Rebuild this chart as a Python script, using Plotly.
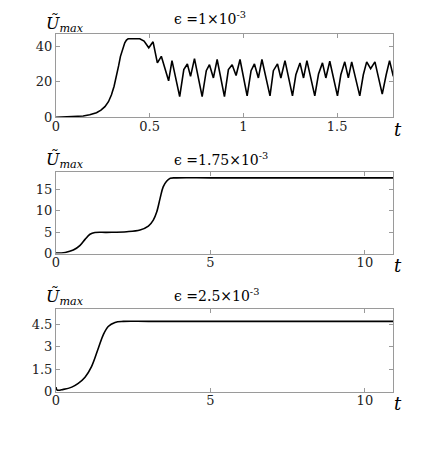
import plotly.graph_objects as go

# panel 1: eps = 1e-3
t1 = [0, 0.05, 0.1, 0.145, 0.18, 0.216, 0.24, 0.261, 0.28, 0.296, 0.31, 0.323, 0.334,
      0.344, 0.356, 0.367, 0.376, 0.385, 0.447, 0.47,
      0.495, 0.518, 0.541, 0.562, 0.601, 0.619, 0.66, 0.682, 0.701, 0.718, 0.739,
      0.78, 0.802, 0.819, 0.84, 0.86, 0.899, 0.92, 0.94, 0.961, 0.982,
      1.02, 1.041, 1.059, 1.08, 1.099, 1.142, 1.16, 1.182, 1.2, 1.222,
      1.262, 1.28, 1.302, 1.321, 1.339, 1.381, 1.401, 1.422, 1.44, 1.461,
      1.502, 1.52, 1.541, 1.56, 1.578, 1.621, 1.64, 1.658, 1.679, 1.702,
      1.741, 1.762, 1.78, 1.8]
u1 = [0, 0.1, 0.3, 0.7, 1.4, 2.6, 4, 6, 8.8, 12.7, 17.5, 23, 29,
      34.4, 39, 42, 43.6, 44.3, 44.3, 43,
      39.2, 42.6, 30.7, 34.4, 20.6, 32, 11.7, 26.9, 30.1, 23.1, 33.1,
      11.7, 26.3, 29.7, 22.2, 32.6, 11.7, 26.9, 29.7, 23.6, 32.6,
      12.1, 26.3, 30.1, 22.2, 32.6, 12.1, 26.3, 30.1, 22.2, 32,
      12.1, 24, 30.7, 22.2, 32, 12.1, 24.4, 30.7, 22.2, 31.6,
      12.1, 24, 31.3, 22.2, 31.3, 12.1, 24, 31.3, 27.4, 31.3,
      13.1, 24, 32, 23.1]

# panel 2: eps = 1.75e-3
t2 = [0, 0.3, 0.56, 0.78, 0.94, 1.1, 1.26, 1.64, 2.29, 2.72, 2.99, 3.15, 3.26,
      3.37, 3.47, 3.58, 3.7, 3.9, 5, 7, 9, 10.92]
u2 = [0.1, 0.25, 0.8, 1.9, 3.3, 4.5, 4.9, 4.95, 5.1, 5.5, 6.4, 7.8, 9.7,
      12.9, 15.6, 16.9, 17.6, 17.7, 17.7, 17.7, 17.7, 17.7]

# panel 3: eps = 2.5e-3
t3 = [0, 0.04, 0.24, 0.51, 0.72, 0.94, 1.15, 1.37, 1.53, 1.69, 1.91, 2.18, 3, 6, 10.92]
u3 = [0.3, 0.1, 0.15, 0.3, 0.55, 0.96, 1.67, 2.9, 3.8, 4.36, 4.63, 4.7, 4.7, 4.7, 4.7]

titles = ["ϵ =1×10<sup>-3</sup>", "ϵ =1.75×10<sup>-3</sup>", "ϵ =2.5×10<sup>-3</sup>"]
xticks = [[0, 0.5, 1, 1.5], [0, 5, 10], [0, 5, 10]]
xlabels = [["0", "0.5", "1", "1.5"], ["0", "5", "10"], ["0", "5", "10"]]
yticks = [[0, 20, 40], [0, 5, 10, 15], [0, 1.5, 3, 4.5]]
ylabels = [["0", "20", "40"], ["0", "5", "10", "15"], ["0", "1.5", "3", "4.5"]]
xranges = [[0, 1.8], [0, 10.92], [0, 10.92]]
yranges = [[0, 47], [0, 19], [0, 5.55]]

FONT = "DejaVu Serif"
OFF = 8                       # page body margin
FW, FH = 436 - OFF, 459 - OFF

def px(x):
    return (x - OFF) / FW

def py(y):
    return 1 - (y - OFF) / FH

# screen pixel boxes of the three axes (top, bottom)
boxes = [(34, 117.3), (172.3, 253.5), (308.7, 391.6)]
ulab_y = [24, 160, 297]
title_y = [18, 159, 295]

fig = go.Figure()
data = [(t1, u1), (t2, u2), (t3, u3)]
for i, (t, u) in enumerate(data):
    n = "" if i == 0 else str(i + 1)
    fig.add_trace(go.Scatter(x=t, y=u, mode="lines", xaxis="x" + n, yaxis="y" + n,
                             line=dict(color="black", width=1.6,
                                       shape="linear" if i == 0 else "spline"),
                             showlegend=False, hoverinfo="skip"))
    top, bot = boxes[i]
    ax = dict(showline=True, linecolor="#9a9a9a", linewidth=1, mirror="ticks",
              ticks="inside", ticklen=4, tickcolor="#9a9a9a", showgrid=False,
              zeroline=False, automargin=False,
              tickfont=dict(family=FONT, size=13, color="#222"))
    fig.update_layout({
        "xaxis" + n: dict(ax, domain=[px(56), px(393.3)], anchor="y" + n,
                          range=xranges[i], tickvals=xticks[i], ticktext=xlabels[i],
                          ticklabelstandoff=-3),
        "yaxis" + n: dict(ax, domain=[py(bot), py(top)], anchor="x" + n,
                          range=yranges[i], tickvals=yticks[i], ticktext=ylabels[i]),
    })
    # y label
    fig.add_annotation(x=px(44), y=py(ulab_y[i]), xref="paper", yref="paper",
                       xanchor="left", yanchor="middle", showarrow=False,
                       text="<i>Ũ</i><sub><i>max</i></sub>",
                       font=dict(family=FONT, size=16, color="black"))
    # title
    fig.add_annotation(x=px(172), y=py(title_y[i]), xref="paper", yref="paper",
                       xanchor="left", yanchor="middle", showarrow=False,
                       text=titles[i], font=dict(family=FONT, size=14, color="black"))
    # t label
    fig.add_annotation(x=px(398), y=py(bot + 12), xref="paper", yref="paper",
                       xanchor="center", yanchor="middle", showarrow=False,
                       text="<i>t</i>", font=dict(family=FONT, size=18, color="black"))

fig.update_layout(width=FW, height=FH, margin=dict(l=0, r=0, t=0, b=0),
                  paper_bgcolor="white", plot_bgcolor="white",
                  font=dict(family=FONT))

fig.write_html("out.html")
